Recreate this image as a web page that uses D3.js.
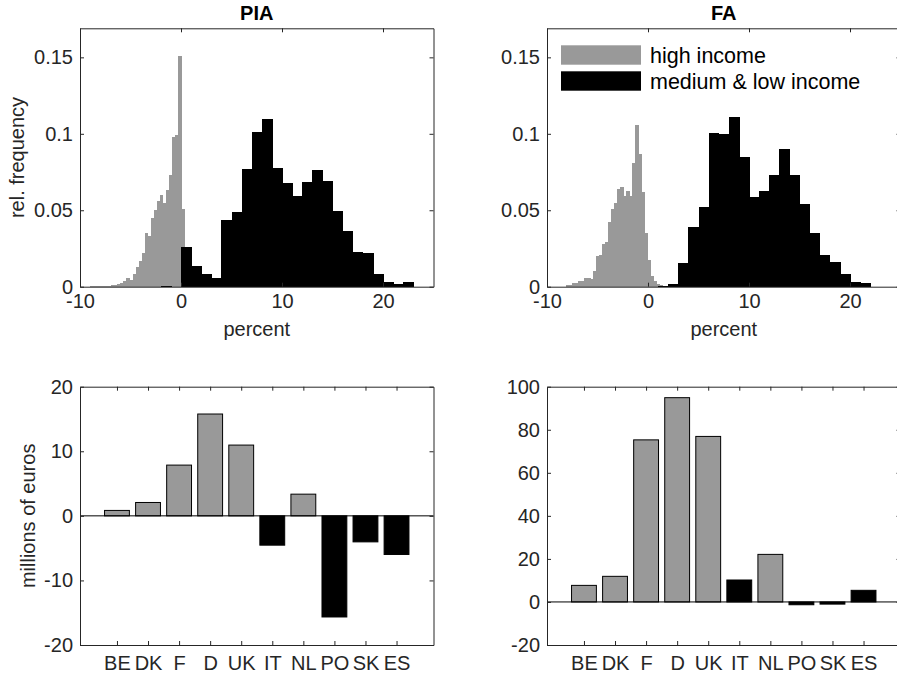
<!DOCTYPE html>
<html>
<head>
<meta charset="utf-8">
<script src="https://cdn.jsdelivr.net/npm/d3@7"></script>
<style>
body { margin: 0; background: #fff; }
svg { display: block; font-family: "Liberation Sans", Arial, Helvetica, sans-serif; }
</style>
</head>
<body>
<div id="chart"></div>
<script>
// histogram data (relative frequency per bin)
var binWidthHigh = 0.3;
var binWidthLow = 1;

var piaHighStart = -9.3;
var piaHigh = [0.0001, 0.0002, 0.0002, 0.0003, 0.0003, 0.0004, 0.0005, 0.0006, 0.0008, 0.001,
    0.0017, 0.0024, 0.004, 0.0054, 0.0046, 0.0085, 0.013, 0.017, 0.022, 0.035,
    0.033, 0.045, 0.050, 0.056, 0.060, 0.0546, 0.063, 0.073, 0.098, 0.099,
    0.151, 0.051];
var piaLowStart = -2;
var piaLow = [0.0006, 0, 0.026, 0.0133, 0.0085, 0.0055, 0.0438, 0.0488, 0.0772, 0.1013, 0.1096,
    0.0777, 0.0676, 0.0595, 0.0687, 0.0761, 0.0694, 0.0497, 0.0365, 0.023, 0.022,
    0.0085, 0.003, 0.002, 0.003];

var faHighStart = -8.15;
var faHigh = [0.0009, 0.0013, 0.0022, 0.0026, 0.0035, 0.004, 0.006, 0.0057, 0.005, 0.010,
    0.020, 0.021, 0.028, 0.029, 0.042, 0.0505, 0.055, 0.0637, 0.065, 0.059,
    0.0626, 0.059, 0.081, 0.106, 0.0867, 0.062, 0.035, 0.0177, 0.0068, 0.0035,
    0.002, 0.0011, 0.0004];
var faLowStart = 1;
var faLow = [0.0004, 0.0015, 0.0153, 0.039, 0.052, 0.1007, 0.100, 0.1107, 0.0847, 0.0589,
    0.0628, 0.0733, 0.090, 0.0733, 0.054, 0.0352, 0.0208, 0.0162, 0.0083, 0.003, 0.0022];

var histXTicks = [-10, 0, 10, 20];
var histYTicks = [0, 0.05, 0.1, 0.15];

// country bars (millions of euros)
var countries = ["BE", "DK", "F", "D", "UK", "IT", "NL", "PO", "SK", "ES"];
var highIncome = ["BE", "DK", "F", "D", "UK", "NL"];
var piaValues = [0.84, 2.07, 7.86, 15.77, 10.96, -4.54, 3.36, -15.66, -4.03, -5.98];
var faValues = [7.7, 11.9, 75.3, 94.9, 76.9, 10.2, 22.1, -1.3, -1.0, 5.4];
var piaTicks = [-20, -10, 0, 10, 20];
var faTicks = [-20, 0, 20, 40, 60, 80, 100];

var legendLabels = ["high income", "medium & low income"];

var axisColor = "#262626";
var grey = "#999999";
var fontSize = 20;

var svg = d3.select("#chart")
    .append("svg")
    .attr("width", 897)
    .attr("height", 677);

var colX = [80, 547];
var axW = 353.5;
var topY = 28.3, topH = 258.4;
var botY = 386.7, botH = 258.3;

function drawFrame(g, x, y, xTicks, yTicks, xPad, xFmt) {
    var w = x.range()[1] - x.range()[0];
    var h = y.range()[0] - y.range()[1];

    var bottom = g.append("g")
        .attr("transform", "translate(0," + h + ")")
        .call(d3.axisBottom(x).tickValues(xTicks).tickSizeInner(-4).tickSizeOuter(0)
            .tickPadding(xPad).tickFormat(xFmt));
    var top = g.append("g")
        .call(d3.axisTop(x).tickValues(xTicks).tickSizeInner(-4).tickSizeOuter(0).tickFormat(""));
    var left = g.append("g")
        .call(d3.axisLeft(y).tickValues(yTicks).tickSizeInner(-4).tickSizeOuter(0)
            .tickPadding(7).tickFormat(function(d) { return String(d); }));
    var right = g.append("g")
        .attr("transform", "translate(" + w + ",0)")
        .call(d3.axisRight(y).tickValues(yTicks).tickSizeInner(-4).tickSizeOuter(0).tickFormat(""));

    [bottom, top, left, right].forEach(function(a) {
        a.selectAll("path, line").attr("stroke", axisColor).attr("stroke-width", 1);
        a.selectAll("text")
            .attr("fill", axisColor)
            .style("font-size", fontSize + "px")
            .style("font-family", "'Liberation Sans', Arial, Helvetica, sans-serif");
    });
}

function histPanel(col, title, highStart, high, lowStart, low, showYLabel, showLegend) {
    var g = svg.append("g")
        .attr("transform", "translate(" + colX[col] + "," + topY + ")");

    var x = d3.scaleLinear().domain([-10, 25]).range([0, axW]);
    var y = d3.scaleLinear().domain([0, 0.169]).range([topH, 0]);

    var highBins = high.map(function(v, i) {
        return { x0: highStart + i * binWidthHigh, x1: highStart + (i + 1) * binWidthHigh, v: v };
    });
    var lowBins = low.map(function(v, i) {
        return { x0: lowStart + i * binWidthLow, x1: lowStart + (i + 1) * binWidthLow, v: v };
    });

    g.selectAll(".hi")
        .data(highBins)
        .enter()
        .append("rect")
        .attr("class", "hi")
        .attr("x", function(d) { return x(d.x0); })
        .attr("width", function(d) { return x(d.x1) - x(d.x0) + 0.6; })
        .attr("y", function(d) { return y(d.v); })
        .attr("height", function(d) { return y(0) - y(d.v); })
        .attr("shape-rendering", "crispEdges")
        .style("fill", grey);

    g.selectAll(".lo")
        .data(lowBins)
        .enter()
        .append("rect")
        .attr("class", "lo")
        .attr("x", function(d) { return x(d.x0); })
        .attr("width", function(d) { return x(d.x1) - x(d.x0) + 0.6; })
        .attr("y", function(d) { return y(d.v); })
        .attr("height", function(d) { return y(0) - y(d.v); })
        .attr("shape-rendering", "crispEdges")
        .style("fill", "#000");

    drawFrame(g, x, y, histXTicks, histYTicks, 7.5, function(d) { return String(d); });

    g.append("text")
        .attr("x", axW / 2)
        .attr("y", -8.3)
        .attr("text-anchor", "middle")
        .style("font-size", fontSize + "px")
        .style("font-weight", "bold")
        .style("fill", "#000")
        .text(title);

    g.append("text")
        .attr("x", axW / 2)
        .attr("y", 336 - topY)
        .attr("text-anchor", "middle")
        .style("font-size", fontSize + "px")
        .style("fill", axisColor)
        .text("percent");

    if (showYLabel) {
        g.append("text")
            .attr("transform", "translate(" + (23.5 - colX[col]) + "," + (topH / 2) + ") rotate(-90)")
            .attr("text-anchor", "middle")
            .style("font-size", fontSize + "px")
            .style("fill", axisColor)
            .text("rel. frequency");
    }

    if (showLegend) {
        var leg = g.selectAll(".leg")
            .data(legendLabels)
            .enter()
            .append("g")
            .attr("class", "leg")
            .attr("transform", function(d, i) { return "translate(14," + (17 + i * 26) + ")"; });
        leg.append("rect")
            .attr("width", 80)
            .attr("height", 19.4)
            .style("fill", function(d, i) { return i == 0 ? grey : "#000"; });
        leg.append("text")
            .attr("x", 89)
            .attr("y", 9.7)
            .attr("dy", "0.35em")
            .style("font-size", "21.5px")
            .style("fill", "#000")
            .text(function(d) { return d; });
    }
}

function barPanel(col, values, domain, ticks, showYLabel) {
    var g = svg.append("g")
        .attr("transform", "translate(" + colX[col] + "," + botY + ")");

    var x = d3.scaleLinear().domain([-0.19, 11.19]).range([0, axW]);
    var y = d3.scaleLinear().domain(domain).range([botH, 0]);
    var bw = (x(1) - x(0)) * 0.8;

    var data = countries.map(function(c, i) {
        return { name: c, pos: i + 1, v: values[i] };
    });

    g.selectAll(".bar")
        .data(data)
        .enter()
        .append("rect")
        .attr("class", "bar")
        .attr("x", function(d) { return x(d.pos) - bw / 2; })
        .attr("width", bw)
        .attr("y", function(d) { return y(Math.max(0, d.v)); })
        .attr("height", function(d) { return Math.abs(y(d.v) - y(0)); })
        .style("fill", function(d) { return highIncome.indexOf(d.name) >= 0 ? grey : "#000"; })
        .style("stroke", "#000")
        .style("stroke-width", 1);

    // zero line
    g.append("line")
        .attr("x1", 0)
        .attr("x2", axW)
        .attr("y1", y(0))
        .attr("y2", y(0))
        .style("stroke", "#000")
        .style("stroke-width", 1);

    drawFrame(g, x, y, d3.range(1, countries.length + 1), ticks, 11,
        function(d) { return countries[d - 1]; });

    if (showYLabel) {
        g.append("text")
            .attr("transform", "translate(" + (35 - colX[col]) + "," + (botH / 2) + ") rotate(-90)")
            .attr("text-anchor", "middle")
            .style("font-size", fontSize + "px")
            .style("fill", axisColor)
            .text("millions of euros");
    }
}

histPanel(0, "PIA", piaHighStart, piaHigh, piaLowStart, piaLow, true, false);
histPanel(1, "FA", faHighStart, faHigh, faLowStart, faLow, false, true);
barPanel(0, piaValues, [-20, 20], piaTicks, true);
barPanel(1, faValues, [-20, 100], faTicks, false);
</script>
</body>
</html>
